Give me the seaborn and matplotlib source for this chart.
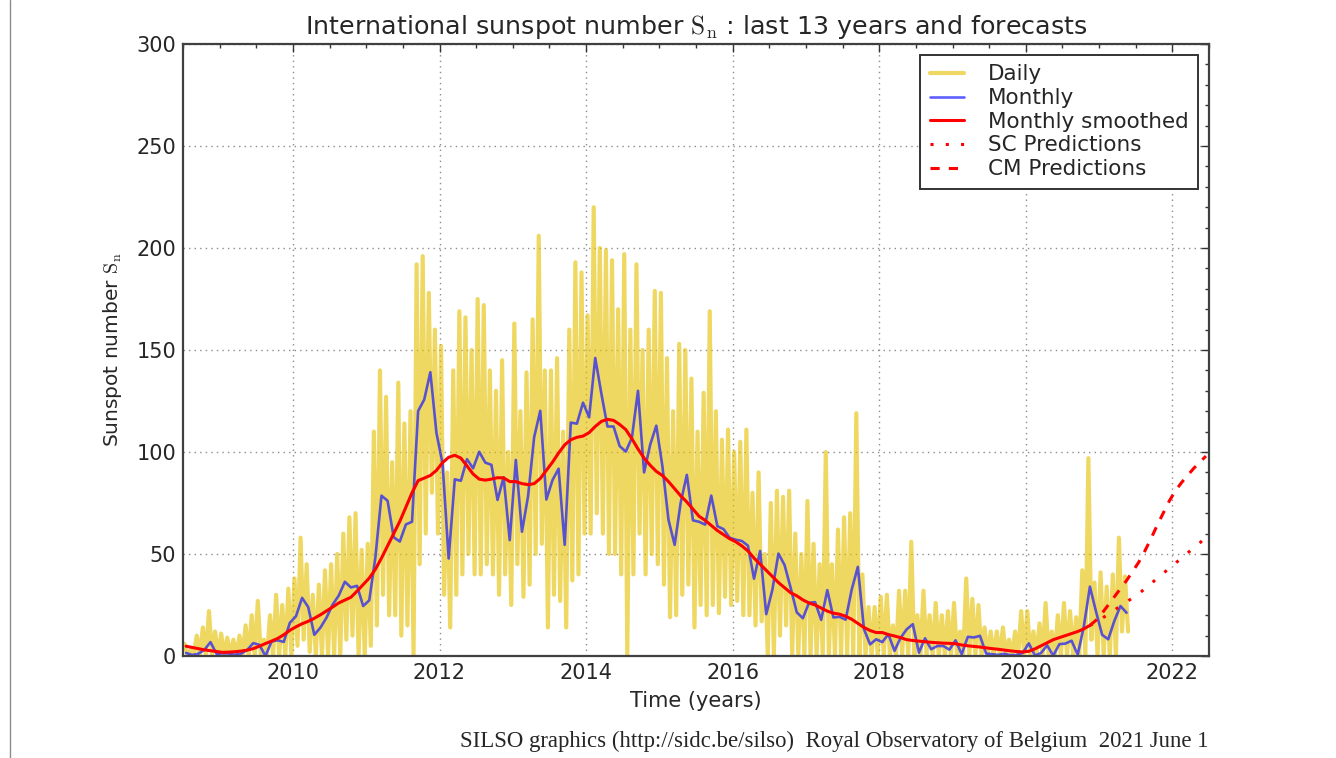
import numpy as np
import pandas as pd
import matplotlib
matplotlib.use("Agg")
import matplotlib.pyplot as plt
from matplotlib.lines import Line2D
from matplotlib.ticker import MultipleLocator
import seaborn as sns

# ---------------- data ----------------
start_year = 2008.5          # first month shown: July 2008
# monthly mean sunspot number, Jul 2008 .. May 2021
monthly = [
    1.5, 0.5, 1.1, 3.0, 6.8, 1.0,
    1.3, 1.2, 0.6, 1.2, 2.9, 6.3, 5.5, 0.0, 7.1, 7.7, 6.9, 16.3,
    19.5, 28.5, 24.0, 10.4, 13.9, 18.8, 25.2, 29.6, 36.4, 33.6, 34.4, 24.5,
    27.3, 48.3, 78.6, 76.1, 58.2, 56.1, 64.5, 65.8, 120.1, 125.7, 139.1, 109.3,
    94.4, 47.8, 86.6, 85.9, 96.5, 92.0, 100.1, 94.8, 93.7, 76.5, 87.6, 56.8,
    96.1, 60.9, 78.3, 107.3, 120.2, 76.7, 86.2, 91.8, 54.5, 114.4, 113.9, 124.2,
    117.0, 146.1, 128.7, 112.5, 112.5, 102.9, 100.2, 106.9, 130.0, 90.0, 103.6, 112.9,
    93.0, 66.7, 54.5, 75.3, 88.8, 66.5, 65.8, 64.4, 78.6, 63.6, 62.2, 58.0,
    57.0, 56.4, 54.1, 37.9, 51.5, 20.5, 32.4, 50.2, 44.6, 33.4, 21.4, 18.5,
    26.1, 26.4, 17.7, 32.3, 18.9, 19.2, 17.8, 32.6, 43.7, 13.2, 5.7, 8.2,
    6.8, 10.7, 2.5, 8.9, 13.1, 15.6, 1.6, 8.7, 3.3, 4.9, 4.9, 3.1,
    7.7, 0.8, 9.4, 9.1, 9.9, 1.2, 0.9, 0.5, 1.1, 0.4, 0.5, 1.5,
    6.2, 0.2, 1.5, 5.2, 0.2, 5.8, 6.1, 7.5, 0.6, 14.4, 34.0, 21.8,
    10.4, 8.2, 17.2, 24.5, 21.2,
]
# 13-month smoothed, Jul 2008 .. Nov 2020
smoothed = [
    4.8, 4.2, 3.6, 3.0, 2.6, 2.2,
    1.8, 1.9, 2.1, 2.4, 2.9, 3.6, 4.8, 6.1, 7.3, 8.6, 10.4, 12.6,
    14.3, 15.8, 17.0, 18.5, 20.2, 22.1, 24.0, 26.0, 27.4, 28.8, 31.8, 35.0,
    38.2, 42.5, 48.0, 54.0, 60.0, 66.0, 73.0, 80.0, 86.0, 87.2, 88.5, 91.0,
    94.8, 97.4, 98.4, 97.0, 93.2, 89.2, 86.7, 86.2, 86.7, 87.4, 87.3, 85.5,
    85.5, 84.5, 84.0, 84.5, 87.0, 91.0, 95.0, 99.5, 103.5, 106.0, 107.2, 107.8,
    109.5, 112.5, 115.0, 116.0, 115.5, 113.5, 111.0, 106.5, 101.5, 97.0, 93.5, 90.5,
    88.5, 85.5, 82.0, 78.5, 75.5, 72.0, 68.5, 66.5, 64.0, 61.5, 59.5, 57.5,
    56.0, 54.0, 51.5, 48.0, 45.0, 42.0, 39.0, 36.0, 33.5, 31.0, 29.5, 27.5,
    26.0, 25.0, 23.5, 22.0, 21.0, 20.5, 19.5, 18.0, 16.0, 14.0, 12.5, 11.5,
    11.5, 10.5, 9.8, 9.0, 8.0, 7.6, 7.3, 7.0, 6.7, 6.5, 6.3, 6.2,
    6.0, 5.4, 5.0, 4.7, 4.4, 4.0, 3.6, 3.3, 2.9, 2.5, 2.2, 2.0,
    2.3, 3.5, 5.0, 6.5, 8.0, 9.0, 10.0, 11.0, 12.0, 13.3, 15.0,
]
# forecasts, Nov 2020 .. Jun 2022
pred_start = 2020 + 10 / 12
sc_pred = [15, 16.5, 18.5, 20.5, 22.5, 24.5, 26.5, 28.5, 30.5, 33, 35.5, 38,
           40.5, 43, 45.5, 48, 50.5, 53, 55.5, 58]
cm_pred = [15, 17.5, 21, 25, 29, 33, 37, 41.5, 46, 51.5, 57.5, 64,
           70, 76, 81, 85, 88.5, 92, 95, 98]
# daily values: highest and lowest day of each month, Jul 2008 .. May 2021
daily_hi = [
    6, 3, 10, 14, 22, 12,
    11, 9, 8, 10, 15, 20, 27, 8, 20, 30, 25, 33,
    38, 58, 45, 30, 35, 42, 45, 50, 60, 68, 70, 52,
    55, 110, 140, 127, 95, 134, 114, 120, 192, 196, 178, 160,
    152, 90, 140, 169, 166, 150, 175, 172, 140, 130, 145, 100,
    163, 120, 139, 165, 206, 140, 140, 146, 110, 160, 193, 188,
    167, 220, 200, 199, 194, 170, 197, 160, 192, 150, 160, 179,
    178, 146, 120, 153, 150, 136, 110, 129, 169, 120, 106, 111,
    100, 105, 111, 80, 90, 50, 75, 81, 78, 81, 60, 50,
    76, 55, 45, 100, 45, 62, 68, 70, 119, 40, 24, 24,
    29, 30, 15, 32, 32, 56, 20, 32, 20, 26, 20, 22,
    26, 12, 38, 28, 25, 14, 12, 12, 14, 8, 12, 22,
    22, 12, 16, 26, 12, 20, 26, 22, 19, 42, 97, 36,
    41, 34, 40, 58, 39,
]
daily_lo = [
    0, 0, 0, 0, 0, 0,
    0, 0, 0, 0, 0, 0, 0, 0, 0, 0, 0, 0,
    5, 8, 2, 0, 0, 0, 0, 0, 8, 10, 0, 0,
    5, 15, 30, 20, 20, 10, 15, 0, 45, 60, 80, 60,
    30, 14, 30, 40, 50, 40, 40, 45, 40, 30, 40, 25,
    45, 29, 35, 50, 55, 14, 30, 27, 14, 37, 40, 60,
    60, 70, 60, 50, 50, 40, 0, 40, 60, 40, 50, 45,
    35, 19, 20, 30, 35, 14, 25, 20, 25, 21, 29, 25,
    27, 20, 20, 15, 17, 0, 0, 10, 15, 0, 0, 0,
    0, 0, 0, 0, 0, 0, 0, 0, 0, 0, 0, 0,
    0, 0, 0, 0, 0, 0, 0, 0, 0, 0, 0, 0,
    0, 0, 0, 0, 0, 0, 0, 0, 0, 0, 0, 0,
    0, 0, 0, 0, 0, 0, 0, 0, 0, 0, 8, 0,
    0, 0, 0, 12, 12,
]

# ---------------- frames ----------------
def mid_months(t0, n):
    return t0 + (np.arange(n) + 0.5) / 12.0

t_month = mid_months(start_year, len(monthly))
df_month = pd.DataFrame({"t": t_month, "v": monthly})
df_smooth = pd.DataFrame({"t": mid_months(start_year, len(smoothed)), "v": smoothed})
df_sc = pd.DataFrame({"t": mid_months(pred_start, len(sc_pred)), "v": sc_pred})
df_cm = pd.DataFrame({"t": mid_months(pred_start, len(cm_pred)), "v": cm_pred})
m0 = start_year + np.arange(len(daily_hi)) / 12.0
t_daily = np.column_stack([m0 + 0.25 / 12, m0 + 0.75 / 12]).ravel()
v_daily = np.column_stack([daily_hi, daily_lo]).ravel()
df_daily = pd.DataFrame({"t": t_daily, "v": v_daily})

# ---------------- style ----------------
sns.set_theme(style="white")
plt.rcParams["font.family"] = ["DejaVu Sans"]
plt.rcParams["mathtext.fontset"] = "cm"

fig = plt.figure(figsize=(13.36, 7.58), dpi=100)
ax = fig.add_axes([183 / 1336, 1 - 656 / 758, (1209 - 183) / 1336, (656 - 44) / 758])

sns.lineplot(data=df_daily, x="t", y="v", ax=ax, color="#e6c000", alpha=0.62,
             lw=3.0, estimator=None, sort=False, label="Daily")
sns.lineplot(data=df_month, x="t", y="v", ax=ax, color="#1a1aff", alpha=0.7,
             lw=1.9, estimator=None, label="Monthly")
sns.lineplot(data=df_smooth, x="t", y="v", ax=ax, color="red", lw=2.2,
             estimator=None, label="Monthly smoothed")
sns.lineplot(data=df_sc, x="t", y="v", ax=ax, color="red", lw=2.2,
             estimator=None, label="SC Predictions")
sns.lineplot(data=df_cm, x="t", y="v", ax=ax, color="red", lw=2.2,
             estimator=None, label="CM Predictions")
ax.lines[3].set_linestyle((0, (1, 4)))
ax.lines[4].set_linestyle((0, (3, 3)))

ax.set_xlim(2008.5, 2022.5)
ax.set_ylim(0, 300)
ax.xaxis.set_major_locator(MultipleLocator(2))
ax.xaxis.set_minor_locator(MultipleLocator(0.5))
ax.yaxis.set_major_locator(MultipleLocator(50))
ax.yaxis.set_minor_locator(MultipleLocator(10))
ax.tick_params(which="both", direction="in", top=True, right=True,
               colors="0.2", labelcolor="0.15", labelsize=15)
ax.tick_params(which="major", length=6, width=1, pad=5)
ax.tick_params(which="minor", length=3, width=1)
ax.grid(True, which="major", ls=(0, (1, 3)), color="0.55", lw=1)
for s in ax.spines.values():
    s.set_color("0.25")
    s.set_linewidth(1.6)

ax.set_xlabel("Time (years)", fontsize=15, color="0.15", labelpad=6)
ax.set_ylabel(r"Sunspot number $\mathrm{S_n}$", fontsize=14.5, color="0.15", labelpad=9)
ax.set_title(r"International sunspot number $\mathrm{S_n}$ : last 13 years and forecasts",
             fontsize=18.3, color="0.15", pad=7)

leg = ax.legend(loc="upper right", fontsize=15.5, frameon=True, fancybox=False,
                framealpha=1, edgecolor="0.2", borderaxespad=0.5,
                labelspacing=0.17, handlelength=1.6, borderpad=0.45,
                handletextpad=1.1)
leg.get_frame().set_linewidth(1.4)
for txt in leg.get_texts():
    txt.set_color("0.15")

fig.text(1208 / 1336, 6 / 758,
         "SILSO graphics (http://sidc.be/silso)  Royal Observatory of Belgium  2021 June 1",
         ha="right", va="bottom", fontsize=16.4, family="Liberation Serif", color="0.15")
fig.add_artist(Line2D([10 / 1336, 10 / 1336], [0, 1], color="0.55", lw=1))

fig.savefig("out.png", dpi=100)
